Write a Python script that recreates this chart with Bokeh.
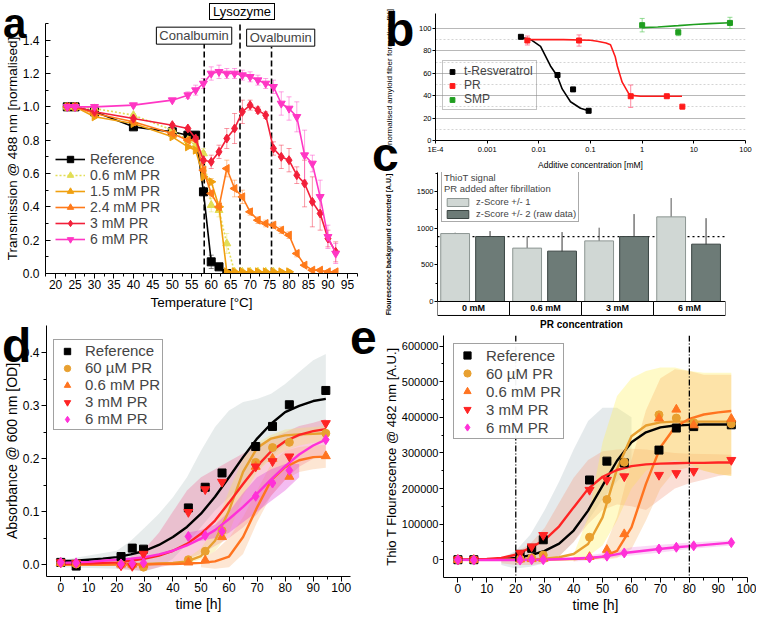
import math
from bokeh.plotting import figure
from bokeh.layouts import row, column
from bokeh.models import (Label, Span, Whisker, ColumnDataSource, Legend, LegendItem,
                          FixedTicker, NumeralTickFormatter, Div)
from bokeh.embed import file_html
from bokeh.resources import INLINE

FONT = "Liberation Sans"

# ---------------- panel a: transmission vs temperature ----------------
a_temp = [23, 25, 30, 40, 50, 54, 56, 58, 60, 62, 64, 66, 68, 70, 72, 74, 76, 78, 80, 82, 84, 86, 88, 90, 92]
a_ref = [1.00, 1.00, 0.97, 0.88, 0.85, 0.83, 0.83, 0.49, 0.07, 0.04, 0.00]
a_ref_err = [0.0, 0.01, 0.01, 0.01, 0.01, 0.01, 0.02, 0.02, 0.04, 0.01, 0.0]
a_06 = [1.00, 1.00, 0.99, 0.95, 0.86, 0.80, 0.77, 0.72, 0.41, 0.38, 0.18, 0.01, 0.01, 0.01, 0.01, 0.01, 0.01]
a_06_err = [0.0, 0.01, 0.01, 0.01, 0.01, 0.01, 0.02, 0.03, 0.04, 0.04, 0.06, 0.01, 0.01, 0.01, 0.01, 0.01, 0.01]
a_15 = [1.00, 1.00, 0.94, 0.90, 0.82, 0.76, 0.74, 0.58, 0.55, 0.40, 0.01, 0.01, 0.01, 0.01, 0.01, 0.01, 0.01, 0.01, 0.01]
a_15_err = [0.0, 0.01, 0.01, 0.01, 0.01, 0.01, 0.02, 0.03, 0.02, 0.03, 0.01, 0.01, 0.01, 0.01, 0.01, 0.01, 0.01, 0.01, 0.01]
a_24 = [1.00, 1.00, 0.96, 0.91, 0.84, 0.80, 0.80, 0.62, 0.48, 0.40, 0.63, 0.51, 0.46, 0.37, 0.32, 0.30, 0.29,
        0.26, 0.23, 0.12, 0.05, 0.02, 0.02, 0.01, 0.01]
a_24_err = [0.0, 0.01, 0.01, 0.01, 0.01, 0.01, 0.02, 0.03, 0.02, 0.02, 0.05, 0.05, 0.04, 0.02, 0.02, 0.02, 0.02,
            0.02, 0.02, 0.02, 0.01, 0.01, 0.01, 0.01, 0.01]
a_3 = [1.00, 1.00, 0.97, 0.93, 0.89, 0.87, 0.81, 0.68, 0.67, 0.73, 0.81, 0.87, 0.97, 1.01, 0.98, 0.95, 0.75,
       0.70, 0.68, 0.59, 0.54, 0.43, 0.36, 0.21, 0.13]
a_3_err = [0.0, 0.01, 0.01, 0.01, 0.01, 0.01, 0.02, 0.05, 0.04, 0.04, 0.06, 0.09, 0.07, 0.03, 0.02, 0.02, 0.04,
           0.07, 0.07, 0.05, 0.14, 0.15, 0.10, 0.05, 0.06]
a_6 = [1.00, 1.00, 1.00, 1.01, 1.04, 1.07, 1.10, 1.14, 1.20, 1.21, 1.20, 1.20, 1.19, 1.18, 1.16, 1.14, 1.12,
       1.02, 0.99, 0.94, 0.71, 0.66, 0.46, 0.22, 0.12]
a_6_err = [0.0, 0.01, 0.01, 0.01, 0.01, 0.02, 0.03, 0.03, 0.04, 0.04, 0.03, 0.03, 0.03, 0.03, 0.03, 0.03, 0.04,
           0.07, 0.07, 0.09, 0.15, 0.05, 0.10, 0.07, 0.06]
a_names = ["Reference", "0.6 mM PR", "1.5 mM PR", "2.4 mM PR", "3 mM PR", "6 mM PR"]
a_xticks = [20, 25, 30, 35, 40, 45, 50, 55, 60, 65, 70, 75, 80, 85, 90, 95]
a_yticks = [0.0, 0.2, 0.4, 0.6, 0.8, 1.0, 1.2, 1.4]
protein_names = ["Conalbumin", "Lysozyme", "Ovalbumin"]
protein_temps = [58.2, 67.4, 75.5]

# ---------------- panel b: dose response ----------------
b_resv_x = [0.0045, 0.023, 0.046, 0.092]
b_resv_y = [92.5, 58.4, 45.6, 26.5]
b_resv_fit_x = [0.0044, 0.007, 0.0108, 0.0168, 0.0226, 0.0283, 0.041, 0.064, 0.092]
b_resv_fit_y = [92.0, 90.0, 84.0, 66.5, 57.8, 46.0, 34.6, 28.8, 26.5]
b_pr_x = [0.006, 0.06, 0.6, 3, 6]
b_pr_y = [89.2, 89.2, 39.5, 39.5, 30.2]
b_pr_err = [4, 5, 10, 1, 0]
b_pr_fit_x = [0.0059, 0.03, 0.1, 0.135, 0.2, 0.244, 0.3, 0.33, 0.41, 0.55, 0.7, 0.93, 2, 5.9]
b_pr_fit_y = [90.0, 90.0, 89.5, 88.5, 87.0, 85.4, 75.0, 66.5, 52.0, 41.8, 40.0, 39.5, 39.5, 39.5]
b_smp_x = [1, 5, 50]
b_smp_y = [102.9, 96.5, 104.9]
b_smp_err = [6, 3, 5]
b_smp_fit_x = [1, 2, 5, 10, 20, 50]
b_smp_fit_y = [100.7, 101.3, 102.5, 103.5, 104.3, 105.0]
b_xticks = [1e-4, 1e-3, 1e-2, 0.1, 1, 10, 100]
b_xlabels = ["1E-4", "0.001", "0.01", "0.1", "1", "10", "100"]
b_yticks = [0, 20, 40, 60, 80, 100]

# ---------------- panel c: ThioT after fibrillation ----------------
pr_conc = ["0 mM", "0.6 mM", "3 mM", "6 mM"]
z1_vals = [928, 729, 828, 1156]
z1_err = [12, 160, 180, 257]
z2_vals = [887, 688, 887, 783]
z2_err = [75, 260, 307, 355]
c_ref_level = 887
c_yticks = [0, 500, 1000, 1500]

# ---------------- panels d, e: kinetics ----------------
t_pts = [0, 5.5, 21.5, 25.5, 29.5, 45.5, 51.5, 57.5, 69.5, 75.5, 81.5, 94.5]
kin_names = ["Reference", "60 \u00b5M PR", "0.6 mM PR", "3 mM PR", "6 mM PR"]
d_ref = [0.004, -0.003, 0.015, 0.031, 0.029, 0.107, 0.146, 0.173, 0.223, 0.261, 0.302, 0.329]
d_60u = [0.003, 0.001, 0.000, -0.001, -0.005, 0.009, 0.025, 0.064, 0.193, 0.221, 0.231, 0.248]
d_06 = [0.003, 0.002, 0.000, 0.000, 0.000, 0.004, 0.008, 0.052, 0.185, 0.200, 0.166, 0.205]
d_3 = [0.004, 0.003, -0.002, -0.003, 0.020, 0.099, 0.142, 0.156, 0.185, 0.195, 0.204, 0.267]
d_6 = [0.004, 0.003, 0.001, 0.002, 0.003, 0.053, 0.055, 0.063, 0.129, 0.154, 0.178, 0.236]

t_fit = [0, 5, 10, 15, 20, 25, 30, 35, 40, 45, 50, 55, 60, 65, 70, 75, 80, 85, 90, 94.5]
d_fit_ref = [0.006, 0.007, 0.009, 0.011, 0.014, 0.019, 0.026, 0.037, 0.052, 0.071, 0.096, 0.128, 0.165, 0.203,
             0.238, 0.266, 0.288, 0.300, 0.309, 0.313]
d_fit_60u = [0.000, 0.000, 0.000, 0.000, 0.001, 0.001, 0.001, 0.002, 0.003, 0.006, 0.016, 0.045, 0.102, 0.175,
             0.220, 0.238, 0.244, 0.246, 0.247, 0.248]
d_fit_06 = [0.000, 0.000, 0.000, 0.000, 0.000, 0.000, 0.000, 0.001, 0.001, 0.002, 0.003, 0.006, 0.015, 0.052,
            0.108, 0.159, 0.184, 0.197, 0.203, 0.204]
d_fit_3 = [0.001, 0.002, 0.002, 0.003, 0.004, 0.007, 0.011, 0.017, 0.026, 0.039, 0.058, 0.083, 0.117, 0.152,
           0.186, 0.214, 0.233, 0.245, 0.252, 0.256]
d_fit_6 = [0.003, 0.004, 0.005, 0.007, 0.009, 0.011, 0.014, 0.019, 0.026, 0.036, 0.049, 0.065, 0.086, 0.109,
           0.134, 0.161, 0.186, 0.208, 0.225, 0.236]

d_band_ref_t = [0, 20, 25, 30, 35, 40, 45, 50, 55, 60, 65, 70, 75, 80, 85, 90, 94.5]
d_band_ref_lo = [-0.005, -0.008, -0.011, -0.013, -0.005, 0.011, 0.039, 0.071, 0.102, 0.127, 0.152, 0.178, 0.203,
                 0.228, 0.241, 0.247, 0.250]
d_band_ref_hi = [0.008, 0.026, 0.045, 0.070, 0.096, 0.127, 0.165, 0.215, 0.260, 0.291, 0.307, 0.313, 0.323, 0.341,
                 0.364, 0.386, 0.398]
d_band_3_t = [20, 25, 30, 35, 40, 45, 50, 55, 60, 65, 70, 75, 80, 85, 90, 94.5]
d_band_3_lo = [-0.008, -0.010, -0.012, -0.005, 0.000, 0.010, 0.020, 0.035, 0.050, 0.070, 0.095, 0.130, 0.160,
               0.185, 0.200, 0.210]
d_band_3_hi = [0.005, 0.015, 0.030, 0.060, 0.100, 0.140, 0.165, 0.180, 0.195, 0.210, 0.225, 0.240, 0.250, 0.262,
               0.268, 0.275]
d_band_6_t = [45, 50, 55, 60, 65, 70, 75, 80, 85]
d_band_6_lo = [0.045, 0.045, 0.050, 0.060, 0.080, 0.100, 0.120, 0.140, 0.165]
d_band_6_hi = [0.060, 0.065, 0.075, 0.100, 0.135, 0.165, 0.180, 0.190, 0.190]
d_band_60u_t = [45, 50, 55, 60, 65, 70, 75, 80, 85, 90, 94.5]
d_band_60u_lo = [0.002, 0.010, 0.025, 0.060, 0.130, 0.175, 0.200, 0.215, 0.225, 0.230, 0.232]
d_band_60u_hi = [0.012, 0.030, 0.070, 0.140, 0.200, 0.230, 0.245, 0.255, 0.258, 0.260, 0.262]
d_band_06_t = [50, 55, 60, 65, 70, 75, 80, 85, 90, 94.5]
d_band_06_lo = [-0.005, -0.008, -0.005, 0.020, 0.080, 0.130, 0.160, 0.175, 0.180, 0.183]
d_band_06_hi = [0.010, 0.025, 0.050, 0.090, 0.140, 0.190, 0.215, 0.222, 0.225, 0.226]

e_ref = [0, 0, 15000, 32000, 56000, 224000, 277000, 272000, 308000, 370000, 374000, 379000]
e_60u = [0, 0, 2000, 5000, 13000, 63000, 169000, 274000, 407000, 398000, 385000, 382000]
e_06 = [0, 0, 1000, 2000, 3000, 8000, 28000, 72000, 397000, 422000, 378000, 396000]
e_3 = [0, 0, 19000, 37000, 69000, 196000, 224000, 234000, 238000, 243000, 249000, 280000]
e_6 = [0, -1000, -1000, 0, 0, 5000, 10000, 19000, 30000, 35000, 39000, 48000]

e_fit_ref = [0, 0, 500, 1500, 5000, 12000, 25000, 45000, 82000, 138000, 208000, 278000, 330000, 358000, 372000,
             377000, 379000, 380000, 380000, 380000]
e_fit_60u = [0, 0, 0, 0, 0, 1000, 3000, 7000, 16000, 44000, 119000, 255000, 347000, 377000, 386000, 388000,
             388000, 388000, 388000, 388000]
e_fit_06 = [0, 0, 0, 0, 0, 0, 500, 1000, 2000, 4000, 8000, 25000, 91000, 213000, 316000, 372000, 396000, 408000,
            414000, 418000]
e_fit_3 = [0, 1000, 2000, 5000, 14000, 33000, 56000, 94000, 147000, 199000, 233000, 252000, 263000, 268000,
           270000, 271000, 272000, 272000, 273000, 273000]

e_band_ref_t = [15, 20, 25, 30, 35, 40, 45, 50, 55, 60]
e_band_ref_lo = [-15000, -25000, -20000, -10000, 10000, 50000, 110000, 170000, 220000, 260000]
e_band_ref_hi = [5000, 25000, 70000, 140000, 220000, 310000, 390000, 427000, 427000, 400000]
e_band_3_t = [15, 20, 25, 30, 35, 40, 45, 50, 55, 60, 65, 70, 75, 80, 85, 90, 94.5]
e_band_3_lo = [-10000, -15000, -15000, -10000, 10000, 50000, 100000, 140000, 155000, 150000, 140000, 170000,
               200000, 215000, 225000, 235000, 240000]
e_band_3_hi = [5000, 20000, 45000, 90000, 160000, 230000, 280000, 305000, 310000, 312000, 310000, 305000, 300000,
               298000, 297000, 296000, 295000]
e_band_60u_t = [40, 45, 50, 55, 60, 65, 70, 75, 80, 85, 90, 94.5]
e_band_60u_lo = [-5000, 10000, 40000, 110000, 200000, 250000, 270000, 280000, 270000, 250000, 240000, 235000]
e_band_60u_hi = [15000, 120000, 330000, 460000, 510000, 530000, 540000, 540000, 530000, 525000, 525000, 525000]
e_band_06_t = [50, 55, 60, 65, 70, 75, 80, 85, 90, 94.5]
e_band_06_lo = [0, 5000, 30000, 110000, 200000, 250000, 260000, 250000, 240000, 235000]
e_band_06_hi = [20000, 120000, 280000, 420000, 510000, 535000, 530000, 520000, 520000, 520000]
e_band_6_t = [40, 45, 50, 55, 60, 70, 80, 94.5]
e_band_6_lo = [-5000, -2000, 2000, 8000, 12000, 20000, 30000, 40000]
e_band_6_hi = [5000, 12000, 18000, 25000, 35000, 42000, 48000, 55000]
e_marks = [20, 80]

# ---------------- colours ----------------
A_COL = ["black", "#e2de55", "#f0a010", "#ff7a1a", "#f2203a", "#ff36c4"]
K_COL = ["black", "#e8a030", "#ff7420", "#ff2424", "#ff30d8"]


def base_fig(w, h, xr, yr, bl, br, bt, bb, x_type="linear"):
    p = figure(width=w, height=h, x_range=xr, y_range=yr, x_axis_type=x_type,
               output_backend="svg", toolbar_location=None, frame_align=False,
               min_border_left=bl, min_border_right=br, min_border_top=bt, min_border_bottom=bb)
    p.outline_line_color = None
    p.xgrid.visible = False
    p.ygrid.visible = False
    return p


def style_axis(ax, tick_size, label_size, tick_in=0, tick_out=4, minor_in=0, minor_out=2,
               bold=False, label_standoff=1, tick_standoff=1):
    ax.major_label_text_font = FONT
    ax.major_label_text_font_size = tick_size
    ax.major_label_text_color = "black"
    ax.axis_label_text_font = FONT
    ax.axis_label_text_font_size = label_size
    ax.axis_label_text_font_style = "bold" if bold else "normal"
    ax.axis_label_text_color = "black"
    ax.axis_line_color = "black"
    ax.major_tick_line_color = "black"
    ax.minor_tick_line_color = "black"
    ax.major_tick_in = tick_in
    ax.major_tick_out = tick_out
    ax.minor_tick_in = minor_in
    ax.minor_tick_out = minor_out
    ax.major_label_standoff = tick_standoff
    ax.axis_label_standoff = label_standoff


def add_err(p, xs, ys, errs, color, alpha=0.55, head=5):
    src = ColumnDataSource(dict(x=xs, lo=[y - e for y, e in zip(ys, errs)], hi=[y + e for y, e in zip(ys, errs)]))
    w = Whisker(source=src, base="x", lower="lo", upper="hi", line_color=color, line_alpha=alpha, level="underlay")
    if head:
        for hd in (w.upper_head, w.lower_head):
            hd.size = head
            hd.line_color = color
            hd.line_alpha = alpha
    else:
        w.upper_head = None
        w.lower_head = None
    p.add_layout(w)


def letter_div(t, left, top, size=48):
    return Div(text=t, margin=0,
               styles={"position": "absolute", "left": f"{left}px", "top": f"{top}px",
                       "font-family": FONT, "font-size": f"{size}px", "font-weight": "bold",
                       "line-height": "30px", "color": "black", "z-index": "10"})


# =============== panel a ===============
pa = base_fig(380, 313, (17.4, 97.6), (0, 1.5), 45, 23, 23, 40)
pa.xaxis.ticker = FixedTicker(ticks=a_xticks, minor_ticks=[t + 2.5 for t in [15] + a_xticks])
pa.yaxis.ticker = FixedTicker(ticks=a_yticks, minor_ticks=[t + 0.1 for t in a_yticks])
pa.yaxis.formatter = NumeralTickFormatter(format="0.0")
pa.xaxis.axis_label = "Temperature [\u00b0C]"
pa.yaxis.axis_label = "Transmission @ 488 nm [normalised]"
style_axis(pa.xaxis[0], "12px", "13.5px", tick_out=5, minor_out=3, label_standoff=3, tick_standoff=1)
style_axis(pa.yaxis[0], "12px", "13.5px", tick_in=5, tick_out=0, minor_in=3, minor_out=0,
           label_standoff=0, tick_standoff=6)

tops = [1.38, 1.5, 1.36]
pa.segment(x0=protein_temps, y0=[0, 0, 0], x1=protein_temps, y1=tops, line_color="black",
           line_dash="6 3", line_width=1.6)

a_series = [a_ref, a_06, a_15, a_24, a_3, a_6]
a_errs = [a_ref_err, a_06_err, a_15_err, a_24_err, a_3_err, a_6_err]
a_markers = [("square", 0), ("triangle", 0), ("triangle", -math.pi / 2), ("triangle", math.pi / 2),
             ("diamond", 0), ("inverted_triangle", 0)]
a_items = []
for vals, errs, col, (mk, ang), name in zip(a_series, a_errs, A_COL, a_markers, a_names):
    xs = a_temp[:len(vals)]
    add_err(pa, xs, vals, errs, col, alpha=0.45, head=5)
    dash = "2 2" if name == "0.6 mM PR" else "solid"
    ln = pa.line(xs, vals, line_color=col, line_width=1.6, line_dash=dash)
    sz = 9 if mk == "diamond" else 8
    sc = pa.scatter(xs, vals, marker=mk, angle=ang, size=sz, fill_color=col, line_color=col)
    a_items.append(LegendItem(label=name, renderers=[ln, sc]))

leg_a = Legend(items=a_items, location=(10, 26), padding=0, margin=0, spacing=0,
               label_text_font=FONT, label_text_font_size="14px", label_height=16, glyph_height=16,
               glyph_width=30, label_standoff=5, border_line_color=None, background_fill_alpha=0)
pa.add_layout(leg_a)

inside_labels = [(protein_names[0], 45.9, 1.427), (protein_names[2], 69.1, 1.415)]
for name, lx, ly in inside_labels:
    pa.add_layout(Label(x=lx, y=ly, text=name, text_font=FONT, text_font_size="13px", text_baseline="middle",
                        border_line_color="black", border_line_width=1, background_fill_color="white",
                        padding=dict(left=3, right=3, top=1, bottom=1)))
lyso_div = Div(text=protein_names[1], margin=0,
               styles={"position": "absolute", "left": "209px", "top": "3px", "font-family": FONT,
                       "font-size": "13px", "line-height": "15px", "color": "black",
                       "background": "white", "border": "1px solid black", "padding": "0px 3px",
                       "z-index": "10"})

# =============== panel b ===============
pb = base_fig(376, 172, (1e-4, 100), (0, 113.3), 55, 11, 13, 29, x_type="log")
pb.xaxis.ticker = FixedTicker(ticks=b_xticks, minor_ticks=[])
pb.xaxis.major_label_overrides = {t: lab for t, lab in zip(b_xticks, b_xlabels)}
pb.yaxis.ticker = FixedTicker(ticks=b_yticks, minor_ticks=[y + 10 for y in b_yticks[:-1]])
pb.xaxis.axis_label = "Additive concentration [mM]"
pb.yaxis.axis_label = "normalised amyloid fiber formation [%]"
style_axis(pb.xaxis[0], "7.5px", "8.5px", tick_out=3, minor_out=0, label_standoff=3)
style_axis(pb.yaxis[0], "7.5px", "8px", tick_out=3, minor_out=0, label_standoff=22)
pb.ygrid.visible = True
pb.ygrid.grid_line_color = "#b8b8b8"
pb.ygrid.minor_grid_line_color = "#d4d4d4"
pb.ygrid.minor_grid_line_dash = "2 2"

add_err(pb, b_pr_x, b_pr_y, b_pr_err, "#ff5a7a", alpha=0.7, head=5)
add_err(pb, b_smp_x, b_smp_y, b_smp_err, "#66cc66", alpha=0.7, head=5)
pb.line(b_resv_fit_x, b_resv_fit_y, line_color="black", line_width=1.6)
pb.line(b_pr_fit_x, b_pr_fit_y, line_color="#ff1a1a", line_width=1.6)
pb.line(b_smp_fit_x, b_smp_fit_y, line_color="#1f9e1f", line_width=1.6)
rb1 = pb.scatter(b_resv_x, b_resv_y, marker="square", size=5, color="black")
rb2 = pb.scatter(b_pr_x, b_pr_y, marker="square", size=5, color="#ff1a1a")
rb3 = pb.scatter(b_smp_x, b_smp_y, marker="square", size=5, color="#1f9e1f")
leg_b = Legend(items=[LegendItem(label="t-Resveratrol", renderers=[rb1]),
                      LegendItem(label="PR", renderers=[rb2]),
                      LegendItem(label="SMP", renderers=[rb3])],
               location=(7, 30), padding=3, margin=0, spacing=0, label_text_font=FONT,
               label_text_font_size="12px", label_height=13, glyph_height=13, glyph_width=12,
               label_standoff=6, border_line_color="#888888", background_fill_alpha=0)
pb.add_layout(leg_b)

# =============== panel c ===============
pc = base_fig(376, 163, (0, 4), (-205, 1762), 57, 31, 0, 19)
pc.yaxis.ticker = FixedTicker(ticks=c_yticks, minor_ticks=[y + 250 for y in c_yticks])
pc.yaxis.bounds = (0, 1762)
pc.yaxis.axis_label = "Flourescence background corrected [A.U.]"
style_axis(pc.yaxis[0], "7.5px", "7px", tick_out=3, minor_out=2, bold=True, label_standoff=22)
pc.xaxis.ticker = FixedTicker(ticks=[])
pc.xaxis.axis_label = "PR concentration"
style_axis(pc.xaxis[0], "1px", "10px", tick_out=0, minor_out=0, bold=True, label_standoff=2)
pc.xaxis.axis_line_color = None

pc.add_layout(Span(location=c_ref_level, dimension="width", line_color="black", line_dash="2 3",
                   line_width=1.2, level="underlay"))
n = len(pr_conc)
x_light = [i + 0.245 for i in range(n)]
x_dark = [i + 0.73 for i in range(n)]
r_light = pc.vbar(x=x_light, top=z1_vals, bottom=0, width=0.4, fill_color="#d0d7d4", line_color="#8c9592")
r_dark = pc.vbar(x=x_dark, top=z2_vals, bottom=0, width=0.4, fill_color="#6d7b77", line_color="#3a4442")
add_err(pc, x_light, z1_vals, z1_err, "#555555", alpha=1.0, head=0)
add_err(pc, x_dark, z2_vals, z2_err, "#333333", alpha=1.0, head=0)
pc.quad(left=list(range(n)), right=[i + 1 for i in range(n)], bottom=-191, top=0,
        fill_color="white", line_color="black", line_width=1)
pc.text(x=[i + 0.5 for i in range(n)], y=[-95] * n, text=pr_conc, text_align="center",
        text_baseline="middle", text_font_size="9px", text_font_style="bold", text_color="black")
leg_c = Legend(items=[LegendItem(label="z-Score +/- 1", renderers=[r_light]),
                      LegendItem(label="z-Score +/- 2 (raw data)", renderers=[r_dark])],
               title="ThioT signal\nPR added after fibrillation", title_text_font=FONT,
               title_text_font_size="9.5px", title_text_font_style="normal", title_standoff=2,
               location=(4, 94), padding=2, margin=0, spacing=1, label_text_font=FONT,
               label_text_font_size="9.5px", label_height=11, glyph_height=10, glyph_width=27,
               label_standoff=5, border_line_color="#555555", background_fill_color="white")
pc.add_layout(leg_c)

# =============== panel d ===============
pd = base_fig(380, 304, (-5.08, 103.3), (-0.0227, 0.4518), 45, 30, 12, 41)
pd.xaxis.ticker = FixedTicker(ticks=list(range(0, 101, 10)), minor_ticks=list(range(5, 101, 10)))
pd.yaxis.ticker = FixedTicker(ticks=[0.0, 0.1, 0.2, 0.3, 0.4], minor_ticks=[0.05, 0.15, 0.25, 0.35])
pd.yaxis.formatter = NumeralTickFormatter(format="0.0")
pd.xaxis.axis_label = "time [h]"
pd.yaxis.axis_label = "Absorbance @ 600 nm [OD]"
style_axis(pd.xaxis[0], "12px", "14px", tick_out=5, minor_out=3, label_standoff=1, tick_standoff=1)
style_axis(pd.yaxis[0], "12px", "14px", tick_out=5, minor_out=3, label_standoff=0, tick_standoff=2)

pd.varea(x=d_band_ref_t, y1=d_band_ref_lo, y2=d_band_ref_hi, fill_color="#d4dcdc", fill_alpha=0.55)
pd.varea(x=d_band_3_t, y1=d_band_3_lo, y2=d_band_3_hi, fill_color="#f0709a", fill_alpha=0.35)
pd.varea(x=d_band_60u_t, y1=d_band_60u_lo, y2=d_band_60u_hi, fill_color="#f4e070", fill_alpha=0.35)
pd.varea(x=d_band_06_t, y1=d_band_06_lo, y2=d_band_06_hi, fill_color="#f8b880", fill_alpha=0.35)
pd.varea(x=d_band_6_t, y1=d_band_6_lo, y2=d_band_6_hi, fill_color="#e040d8", fill_alpha=0.35)

d_fits = [d_fit_ref, d_fit_60u, d_fit_06, d_fit_3, d_fit_6]
d_data = [d_ref, d_60u, d_06, d_3, d_6]
K_MK = [("square", 8), ("circle", 8), ("triangle", 9), ("inverted_triangle", 9), ("diamond", 10)]
for fit, col in zip(d_fits, K_COL):
    pd.line(t_fit, fit, line_color=col, line_width=2.4)
d_items = []
for vals, col, (mk, sz), name in zip(d_data, K_COL, K_MK, kin_names):
    r = pd.scatter(t_pts, vals, marker=mk, size=sz, fill_color=col, line_color=col)
    d_items.append(LegendItem(label=name, renderers=[r]))
leg_d = Legend(items=d_items, location=(7, 146), padding=2, margin=0, spacing=0, label_text_font=FONT,
               label_text_font_size="15px", label_height=16, glyph_height=16, glyph_width=22,
               label_standoff=7, border_line_color="#444444", background_fill_color="white")
pd.add_layout(leg_d)

# =============== panel e ===============
pe = base_fig(376, 282, (-4.98, 100.1), (-50000, 630000), 57, 9, 0, 40)
pe.xaxis.ticker = FixedTicker(ticks=list(range(0, 101, 10)), minor_ticks=list(range(5, 101, 10)))
pe.yaxis.ticker = FixedTicker(ticks=[0, 100000, 200000, 300000, 400000, 500000, 600000],
                              minor_ticks=[50000, 150000, 250000, 350000, 450000, 550000])
pe.yaxis.formatter = NumeralTickFormatter(format="0")
pe.xaxis.axis_label = "time [h]"
pe.yaxis.axis_label = "Thio T Flourescence @ 482 nm [A.U.]"
style_axis(pe.xaxis[0], "12px", "14px", tick_out=5, minor_out=3, label_standoff=1, tick_standoff=1)
style_axis(pe.yaxis[0], "11px", "13px", tick_out=4, minor_out=2, label_standoff=0, tick_standoff=1)

pe.varea(x=e_band_ref_t, y1=e_band_ref_lo, y2=e_band_ref_hi, fill_color="#d0d8dc", fill_alpha=0.55)
pe.varea(x=e_band_3_t, y1=e_band_3_lo, y2=e_band_3_hi, fill_color="#f4a088", fill_alpha=0.35)
pe.varea(x=e_band_60u_t, y1=e_band_60u_lo, y2=e_band_60u_hi, fill_color="#fff060", fill_alpha=0.35)
pe.varea(x=e_band_06_t, y1=e_band_06_lo, y2=e_band_06_hi, fill_color="#f8b060", fill_alpha=0.3)
pe.varea(x=e_band_6_t, y1=e_band_6_lo, y2=e_band_6_hi, fill_color="#f080e0", fill_alpha=0.3)
for m in e_marks:
    pe.add_layout(Span(location=m, dimension="height", line_color="black", line_dash="6 2 1 2", line_width=1.3))

e_fits = [e_fit_ref, e_fit_60u, e_fit_06, e_fit_3]
for fit, col in zip(e_fits, K_COL[:4]):
    pe.line(t_fit, fit, line_color=col, line_width=2.4)
pe.line(t_pts, e_6, line_color=K_COL[4], line_width=2.4)
e_data = [e_ref, e_60u, e_06, e_3, e_6]
e_items = []
for vals, col, (mk, sz), name in zip(e_data, K_COL, K_MK, kin_names):
    r = pe.scatter(t_pts, vals, marker=mk, size=sz, fill_color=col, line_color=col)
    e_items.append(LegendItem(label=name, renderers=[r]))
leg_e = Legend(items=e_items, location=(10, 138), padding=2, margin=0, spacing=0, label_text_font=FONT,
               label_text_font_size="15px", label_height=18, glyph_height=18, glyph_width=22,
               label_standoff=8, border_line_color="#444444", background_fill_color="white")
pe.add_layout(leg_e)

letters = [letter_div("a", 3, 9, size=42), letter_div("b", 385, 15), letter_div("c", 372, 140),
           letter_div("d", 2, 331), letter_div("e", 350, 323)]

layout = row(column(pa, pd, spacing=0), column(pb, pc, pe, spacing=0), lyso_div, *letters, spacing=0)
open("out.html", "w").write(file_html(layout, INLINE))
